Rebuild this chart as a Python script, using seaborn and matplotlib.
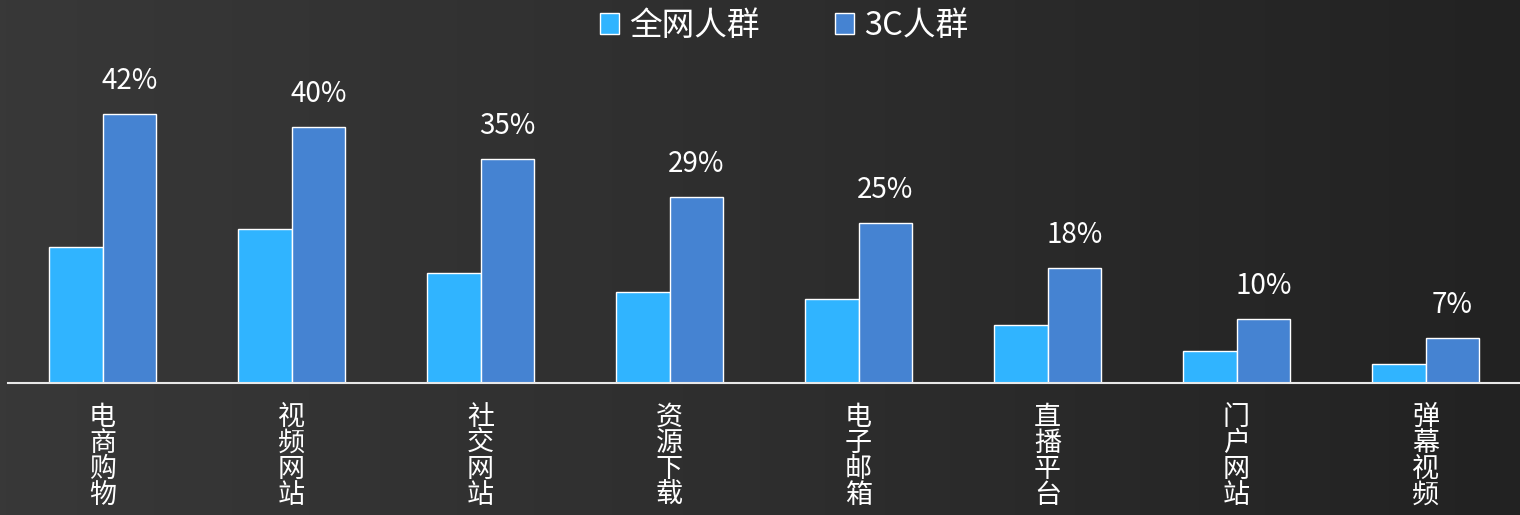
import numpy as np
import pandas as pd
import matplotlib
matplotlib.use("Agg")
import matplotlib.pyplot as plt
from matplotlib.patches import Patch
from matplotlib.colors import LinearSegmentedColormap
import seaborn as sns

categories = ["电商购物", "视频网站", "社交网站", "资源下载", "电子邮箱", "直播平台", "门户网站", "弹幕视频"]
all_users = [21.2, 24.1, 17.2, 14.2, 13.1, 9.1, 5.0, 3.0]
users_3c = [42, 40, 35, 29, 25, 18, 10, 7]
series_names = ["全网人群", "3C人群"]
labels_3c = ["42%", "40%", "35%", "29%", "25%", "18%", "10%", "7%"]

colors = ["#30b4ff", "#4583d2"]

sns.set_theme(style="white")
plt.rcParams["font.family"] = ["Noto Sans CJK SC", "DejaVu Sans"]

df = pd.DataFrame({
    "category": categories * 2,
    "value": all_users + users_3c,
    "series": [series_names[0]] * len(categories) + [series_names[1]] * len(categories),
})

fig = plt.figure(figsize=(15.2, 5.15), dpi=100)

# background gradient
bg = fig.add_axes([0, 0, 1, 1], zorder=-10)
grad = np.linspace(0, 1, 256).reshape(1, -1)
cmap = LinearSegmentedColormap.from_list("bg", ["#383838", "#2e2e2e", "#222222"])
bg.imshow(grad, aspect="auto", cmap=cmap, extent=[0, 1, 0, 1])
bg.set_axis_off()

ax = fig.add_axes([8 / 1520, 1 - 383 / 515, 1 - 8 / 1520, (383 - 65.5) / 515])
ax.set_facecolor("none")

sns.barplot(data=df, x="category", y="value", hue="series", hue_order=series_names,
            palette=colors, width=0.57, gap=0, edgecolor="white", linewidth=1.0,
            ax=ax, legend=False, saturation=1)

ax.bar_label(ax.containers[1], labels=labels_3c, padding=13, color="white", fontsize=20)

ax.set_xlim(-0.5, len(categories) - 0.5)
ax.set_ylim(0, 49.6)
ax.set_xlabel("")
ax.set_ylabel("")
ax.set_yticks([])
ax.set_xticks(range(len(categories)))
ax.set_xticklabels(["\n".join(c) for c in categories], color="white", fontsize=19.5,
                   linespacing=0.95, va="top")
ax.tick_params(axis="x", length=0, pad=15)
for s in ["top", "left", "right"]:
    ax.spines[s].set_visible(False)
ax.spines["bottom"].set_color("#e8e8e8")
ax.spines["bottom"].set_linewidth(1.5)

handles = [Patch(facecolor=colors[i], edgecolor="white", linewidth=1.0, label=series_names[i]) for i in range(2)]
fig.legend(handles=handles, loc="center", bbox_to_anchor=(784 / 1520, 1 - 26 / 515), ncol=2,
           frameon=False, prop={"size": 23.5}, labelcolor="white",
           handlelength=0.6, handleheight=0.6, handletextpad=0.3, columnspacing=2.3)

fig.savefig("out.png", dpi=100)
